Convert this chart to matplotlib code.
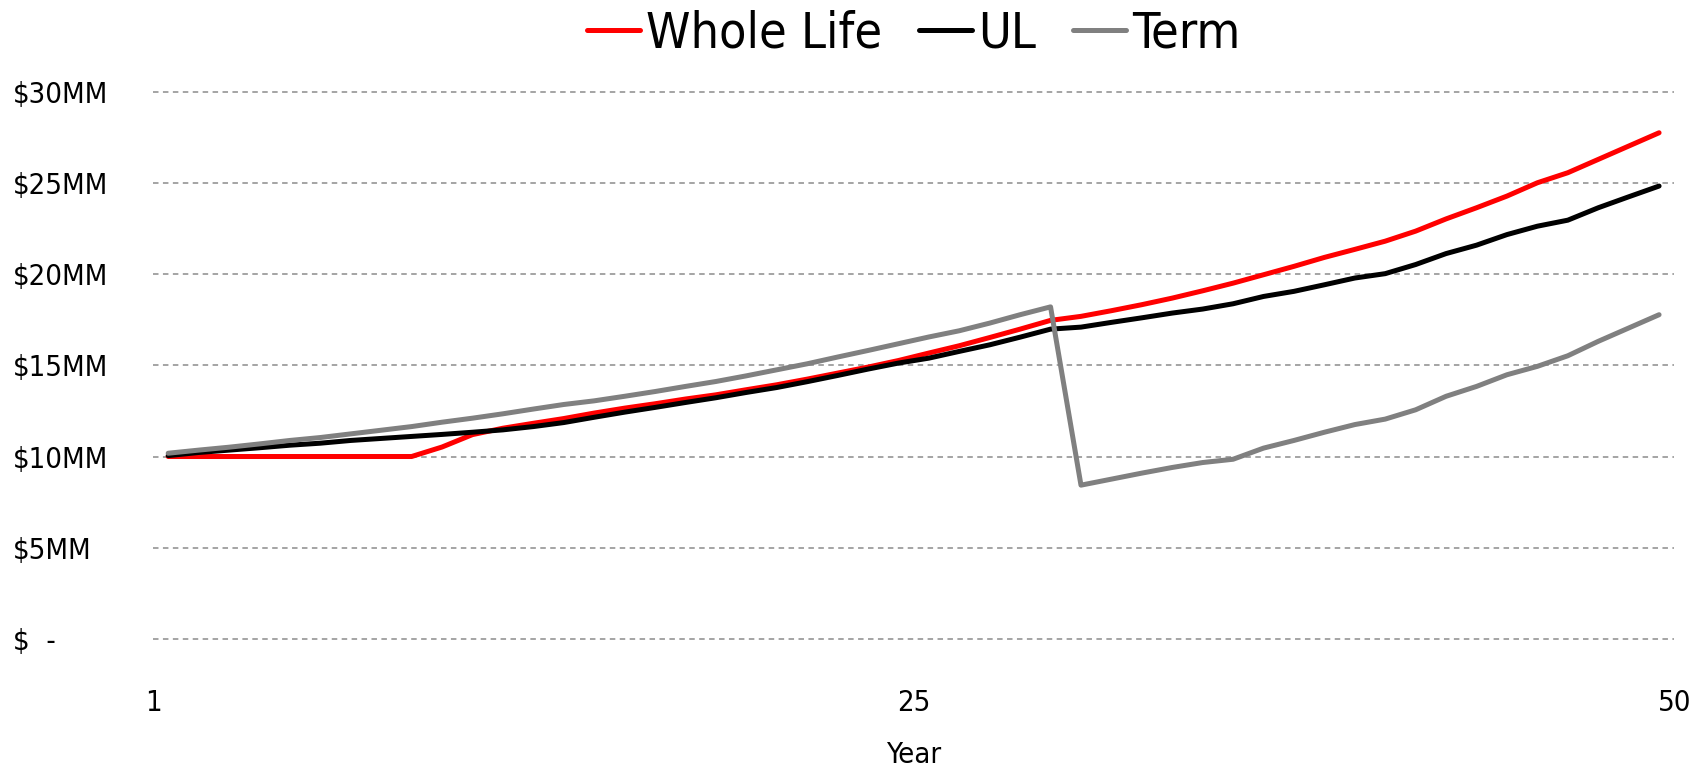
import matplotlib
matplotlib.use("Agg")
import matplotlib.pyplot as plt

plt.rcParams["font.family"] = ["DejaVu Sans"]
plt.rcParams["font.stretch"] = "condensed"

years = list(range(1, 51))

whole_life = [
    10.0, 10.0, 10.0, 10.0, 10.0, 10.0, 10.0, 10.0, 10.0, 10.52,
    11.2, 11.55, 11.82, 12.08, 12.38, 12.65, 12.89, 13.15, 13.38, 13.66,
    13.93, 14.24, 14.57, 14.9, 15.26, 15.67, 16.07, 16.52, 16.98, 17.46,
    17.68, 17.99, 18.32, 18.68, 19.08, 19.5, 19.96, 20.42, 20.91, 21.35,
    21.8, 22.35, 23.02, 23.63, 24.27, 25.0, 25.55, 26.28, 27.01, 27.74,
]
ul = [
    10.05, 10.22, 10.35, 10.48, 10.62, 10.73, 10.88, 10.99, 11.1, 11.21,
    11.33, 11.46, 11.64, 11.86, 12.15, 12.43, 12.69, 12.96, 13.22, 13.51,
    13.78, 14.1, 14.44, 14.79, 15.12, 15.39, 15.76, 16.12, 16.54, 16.98,
    17.09, 17.35, 17.6, 17.86, 18.08, 18.37, 18.77, 19.05, 19.41, 19.78,
    20.02, 20.52, 21.12, 21.58, 22.16, 22.62, 22.95, 23.63, 24.23, 24.82,
]
term = [
    10.18, 10.35, 10.51, 10.69, 10.88, 11.04, 11.24, 11.44, 11.64, 11.88,
    12.1, 12.34, 12.6, 12.85, 13.05, 13.3, 13.56, 13.84, 14.11, 14.42,
    14.75, 15.08, 15.45, 15.81, 16.18, 16.55, 16.89, 17.31, 17.77, 18.2,
    8.43, 8.76, 9.09, 9.4, 9.67, 9.85, 10.46, 10.88, 11.33, 11.75,
    12.05, 12.56, 13.3, 13.84, 14.48, 14.94, 15.52, 16.31, 17.04, 17.77,
]

y_ticks = [0, 5, 10, 15, 20, 25, 30]
y_labels = ["$  -", "$5MM", "$10MM", "$15MM", "$20MM", "$25MM", "$30MM"]
x_labels = ["1", "25", "50"]

fig = plt.figure(figsize=(16.96, 7.71), dpi=100)
ax = fig.add_axes([0.0902, 0.1712, 0.897, 0.7101])

lw = 3.6
ax.plot(years, whole_life, color="#ff0000", lw=lw, solid_capstyle="round",
        solid_joinstyle="round", label="Whole Life", zorder=3)
ax.plot(years, ul, color="#000000", lw=lw, solid_capstyle="round",
        solid_joinstyle="round", label="UL", zorder=4)
ax.plot(years, term, color="#808080", lw=lw, solid_capstyle="round",
        solid_joinstyle="round", label="Term", zorder=5)

ax.set_xlim(0.5, 50.5)
ax.set_ylim(0, 30)
ax.set_yticks(y_ticks)
ax.set_yticklabels(y_labels)
ax.set_xticks([0.5, 25.5, 50.5])
ax.set_xticklabels(x_labels)

ax.grid(axis="y", color="#8c8c8c", lw=1.1, linestyle=(0, (3.6, 2.9)))
for gl in ax.get_ygridlines():
    gl.set_clip_on(False)
ax.set_axisbelow(True)
for s in ax.spines.values():
    s.set_visible(False)

ax.tick_params(axis="both", length=0, labelsize=21)
ax.tick_params(axis="y", pad=101)
for t in ax.get_yticklabels():
    t.set_ha("left")
ax.tick_params(axis="x", pad=36)

ax.set_xlabel("Year", fontsize=21, labelpad=17)

fig.legend(loc="center", bbox_to_anchor=(913.5 / 1696, 1 - 33 / 771),
           ncol=3, frameon=False, fontsize=36, handlelength=1.05,
           handletextpad=0.12, columnspacing=0.75, borderaxespad=0)

fig.savefig("out.png", dpi=100)
